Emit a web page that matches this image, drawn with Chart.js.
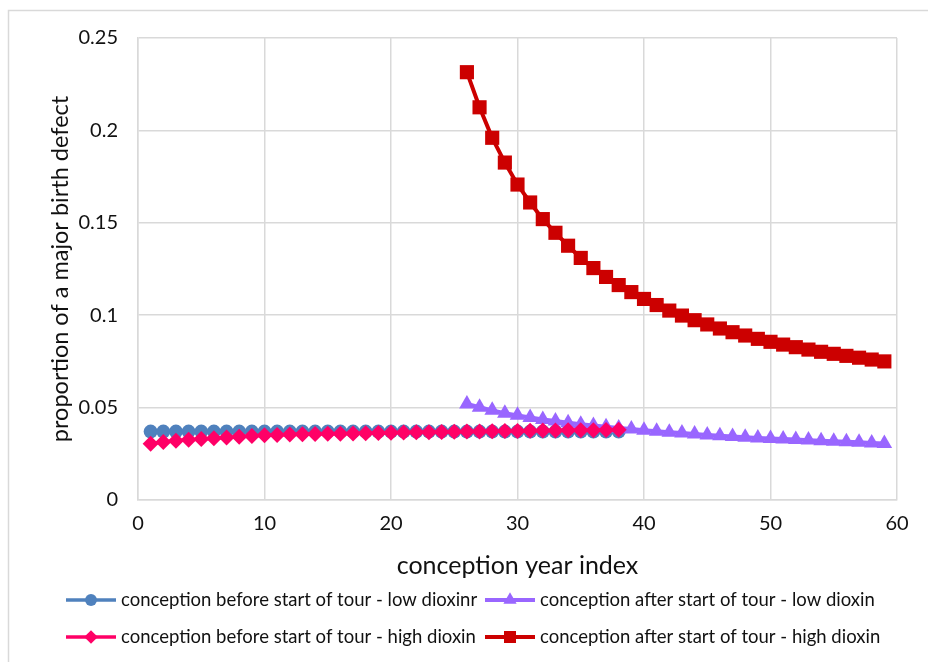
<!DOCTYPE html>
<html>
<head>
<meta charset="utf-8">
<script src="https://cdn.jsdelivr.net/npm/chart.js@4.4.1/dist/chart.umd.min.js"></script>
<style>
  html, body { margin: 0; padding: 0; background: #fff; }
  #wrap { width: 928px; height: 662px; position: relative; }
</style>
</head>
<body>
<div id="wrap"><canvas id="plot" width="928" height="662"></canvas></div>
<script>
// conception year index where each group starts
const beforeStart = 1;
const afterStart = 26;

const lowBefore = [
  0.0370, 0.0370, 0.0370, 0.0370, 0.0370, 0.0370, 0.0370, 0.0370, 0.0370, 0.0370,
  0.0370, 0.0370, 0.0370, 0.0370, 0.0370, 0.0370, 0.0370, 0.0370, 0.0370, 0.0370,
  0.0370, 0.0370, 0.0370, 0.0370, 0.0370, 0.0370, 0.0370, 0.0370, 0.0370, 0.0370,
  0.0370, 0.0370, 0.0370, 0.0370, 0.0370, 0.0370, 0.0370, 0.0370
];
const highBefore = [
  0.0305, 0.0314, 0.0320, 0.0326, 0.0330, 0.0334, 0.0338, 0.0342, 0.0346, 0.0350,
  0.0352, 0.0354, 0.0356, 0.0357, 0.0358, 0.0359, 0.0360, 0.0361, 0.0362, 0.0364,
  0.0365, 0.0366, 0.0367, 0.0368, 0.0369, 0.0370, 0.0371, 0.0372, 0.0373, 0.0374,
  0.0375, 0.0376, 0.0376, 0.0377, 0.0377, 0.0378, 0.0379, 0.0380
];
const lowAfter = [
  0.0520, 0.0502, 0.0485, 0.0470, 0.0458, 0.0447, 0.0436, 0.0427, 0.0418, 0.0410,
  0.0403, 0.0396, 0.0390, 0.0384, 0.0378, 0.0372, 0.0367, 0.0362, 0.0357, 0.0352,
  0.0348, 0.0344, 0.0340, 0.0336, 0.0333, 0.0330, 0.0327, 0.0324, 0.0321, 0.0318,
  0.0315, 0.0312, 0.0309, 0.0306
];
const highAfter = [
  0.2315, 0.2125, 0.1960, 0.1826, 0.1707, 0.1610, 0.1520, 0.1446, 0.1376, 0.1310,
  0.1255, 0.1207, 0.1163, 0.1125, 0.1088, 0.1055, 0.1025, 0.0998, 0.0973, 0.0950,
  0.0928, 0.0908, 0.0890, 0.0872, 0.0856, 0.0841, 0.0827, 0.0814, 0.0802, 0.0791,
  0.0780, 0.0770, 0.0760, 0.0750
];

const seriesNames = [
  "conception before start of tour - low dioxinr",
  "conception after start of tour - low dioxin",
  "conception before start of tour - high dioxin",
  "conception after start of tour - high dioxin"
];

const xTicks = [0, 10, 20, 30, 40, 50, 60];
const yTicks = [0, 0.05, 0.1, 0.15, 0.2, 0.25];

const toPoints = (start, values) => values.map((v, i) => ({ x: start + i, y: v }));

const FONT = "Lato, 'DejaVu Sans', sans-serif";

const series = [
  { label: seriesNames[0], data: toPoints(beforeStart, lowBefore), color: "#4f81bd", style: "circle", radius: 7, width: 3.5, order: 3 },
  { label: seriesNames[1], data: toPoints(afterStart, lowAfter), color: "#9966ff", style: "triangle", radius: 9, width: 4, order: 2 },
  { label: seriesNames[2], data: toPoints(beforeStart, highBefore), color: "#ff0066", style: "rectRot", radius: 8, width: 3.5, order: 1 },
  { label: seriesNames[3], data: toPoints(afterStart, highAfter), color: "#cc0000", style: "rect", radius: 10, width: 4, order: 0 }
];

// frame around the whole figure
const framePlugin = {
  id: "frame",
  beforeDraw(chart) {
    const ctx = chart.ctx;
    ctx.save();
    ctx.fillStyle = "#fff";
    ctx.fillRect(0, 0, chart.width, chart.height);
    ctx.strokeStyle = "#d9d9d9";
    ctx.lineWidth = 1.5;
    ctx.strokeRect(8.5, 10.5, 1000, 1000);
    ctx.restore();
  }
};

// two-row legend with line + marker swatches
const legendPlugin = {
  id: "lineLegend",
  afterDraw(chart) {
    const ctx = chart.ctx;
    const cols = [66, 485];
    const rows = [600, 637];
    ctx.save();
    series.forEach((s, i) => {
      const x = cols[i % 2];
      const y = rows[Math.floor(i / 2)];
      ctx.strokeStyle = s.color;
      ctx.fillStyle = s.color;
      ctx.lineWidth = s.width;
      ctx.beginPath();
      ctx.moveTo(x, y);
      ctx.lineTo(x + 50, y);
      ctx.stroke();
      Chart.helpers.drawPoint(ctx, { pointStyle: s.style, radius: s.radius * 0.85, rotation: 0, borderWidth: 0 }, x + 25, y);
      ctx.fillStyle = "#111";
      ctx.font = "18.5px " + FONT;
      ctx.textBaseline = "middle";
      ctx.textAlign = "left";
      ctx.fillText(s.label, x + 55, y);
    });
    ctx.restore();
  }
};

const chart = new Chart(document.getElementById("plot").getContext("2d"), {
  type: "line",
  data: {
    datasets: series.map(s => ({
      label: s.label,
      data: s.data,
      borderColor: s.color,
      backgroundColor: s.color,
      borderWidth: s.width,
      pointStyle: s.style,
      pointRadius: s.radius,
      pointBorderWidth: 0,
      pointBackgroundColor: s.color,
      tension: 0,
      order: s.order
    }))
  },
  options: {
    responsive: false,
    animation: false,
    layout: { padding: { left: 0, right: 31, top: 38, bottom: 78 } },
    plugins: {
      legend: { display: false },
      tooltip: { enabled: false }
    },
    scales: {
      x: {
        type: "linear",
        min: xTicks[0],
        max: xTicks[xTicks.length - 1],
        afterBuildTicks: (scale) => { scale.ticks = xTicks.map(v => ({ value: v })); },
        afterFit: (scale) => { scale.height = 84; },
        grid: { color: "#d9d9d9", lineWidth: 1.5, drawTicks: false },
        border: { color: "#d9d9d9", width: 1.5 },
        ticks: { color: "#111", font: { family: FONT, size: 20 }, padding: 12, maxRotation: 0 },
        title: { display: true, text: "conception year index", color: "#111", font: { family: FONT, size: 25 }, padding: { top: 0, bottom: 3 } }
      },
      y: {
        type: "linear",
        min: yTicks[0],
        max: yTicks[yTicks.length - 1],
        afterBuildTicks: (scale) => { scale.ticks = yTicks.map(v => ({ value: v })); },
        afterFit: (scale) => { scale.width = 138; },
        grid: { color: "#d9d9d9", lineWidth: 1.5, drawTicks: false },
        border: { color: "#d9d9d9", width: 1.5 },
        ticks: { color: "#111", font: { family: FONT, size: 20 }, padding: 20, callback: (v) => String(+v.toFixed(2)) },
        title: { display: true, text: "proportion of a major birth defect", color: "#111", font: { family: FONT, size: 23.5 }, padding: { top: 46, bottom: 0 } }
      }
    }
  },
  plugins: [framePlugin, legendPlugin]
});
</script>
</body>
</html>
